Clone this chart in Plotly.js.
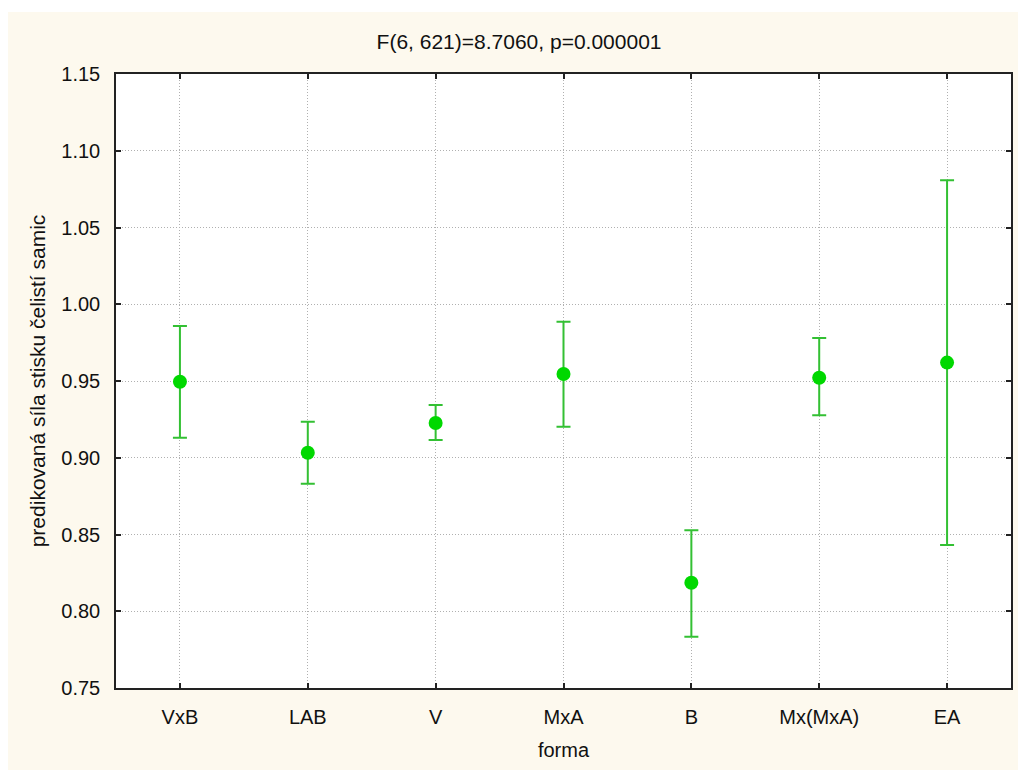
<!DOCTYPE html>
<html>
<head>
<meta charset="utf-8">
<script src="https://cdn.plot.ly/plotly-3.0.1.min.js"></script>
<style>
  html, body { margin: 0; padding: 0; background: #ffffff; }
  #chart { position: absolute; left: 8px; top: 12px; width: 1010px; height: 758px; }
</style>
</head>
<body>
<div id="chart"></div>
<script>
const categories = ["VxB", "LAB", "V", "MxA", "B", "Mx(MxA)", "EA"];
const means = [0.9495, 0.9033, 0.9226, 0.9546, 0.8186, 0.9521, 0.9620];
const upper = [0.9858, 0.9235, 0.9344, 0.9886, 0.8527, 0.9780, 1.0808];
const lower = [0.9130, 0.8831, 0.9116, 0.9202, 0.7834, 0.9277, 0.8432];
const yTicks = [0.75, 0.80, 0.85, 0.90, 0.95, 1.00, 1.05, 1.10, 1.15];

const errPlus = upper.map((u, i) => u - means[i]);
const errMinus = lower.map((l, i) => means[i] - l);

const font = "Liberation Sans, Arial, sans-serif";

const trace = {
  type: "scatter",
  mode: "markers",
  x: categories,
  y: means,
  marker: { color: "#00d800", size: 14, symbol: "circle" },
  error_y: {
    type: "data",
    symmetric: false,
    array: errPlus,
    arrayminus: errMinus,
    color: "#33c033",
    thickness: 2,
    width: 7
  },
  showlegend: false,
  hoverinfo: "x+y"
};

const layout = {
  width: 1010,
  height: 758,
  paper_bgcolor: "#fdf9ee",
  plot_bgcolor: "#ffffff",
  margin: { l: 108, r: 7, t: 62, b: 82 },
  title: {
    text: "F(6, 621)=8.7060, p=0.000001",
    font: { family: font, size: 21, color: "#111" },
    x: 0.506, xanchor: "center",
    y: 0.961, yanchor: "middle"
  },
  xaxis: {
    type: "category",
    categoryorder: "array",
    categoryarray: categories,
    range: [-0.5, 6.5],
    showline: true, linecolor: "#222", linewidth: 1.5, mirror: "ticks",
    ticks: "inside", ticklen: 5, tickcolor: "#222", tickwidth: 1.5,
    showgrid: true, gridcolor: "#b0b0b0", griddash: "1px,2px", gridwidth: 1,
    tickfont: { family: font, size: 20, color: "#111" },
    ticklabelstandoff: 10,
    zeroline: false,
    title: { text: "forma", font: { family: font, size: 20, color: "#111" }, standoff: 16 }
  },
  yaxis: {
    range: [0.75, 1.15],
    tickvals: yTicks,
    ticktext: yTicks.map(v => v.toFixed(2)),
    showline: true, linecolor: "#222", linewidth: 1.5, mirror: "ticks",
    ticks: "inside", ticklen: 5, tickcolor: "#222", tickwidth: 1.5,
    showgrid: true, gridcolor: "#b0b0b0", griddash: "1px,2px", gridwidth: 1,
    tickfont: { family: font, size: 20, color: "#111" },
    ticklabelstandoff: 10,
    zeroline: false,
    title: { text: "predikovaná síla stisku čelistí samic", font: { family: font, size: 21, color: "#111" }, standoff: 10 }
  }
};

Plotly.newPlot("chart", [trace], layout, { displayModeBar: false });
</script>
</body>
</html>
